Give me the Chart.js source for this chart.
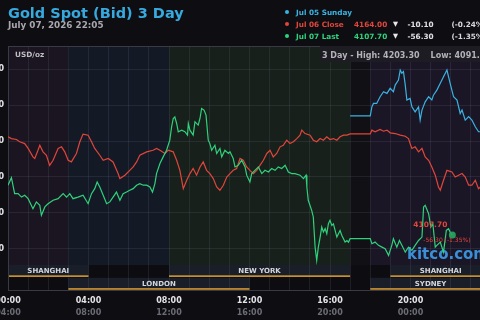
<!DOCTYPE html>
<html>
<head>
<meta charset="utf-8">
<script src="https://cdn.jsdelivr.net/npm/chart.js@4.4.1/dist/chart.umd.min.js"></script>
<style>
  html, body { margin: 0; padding: 0; background: #0e0e12; width: 480px; height: 320px; overflow: hidden; }
  #wrap { position: relative; width: 480px; height: 320px; overflow: hidden; font-family: "DejaVu Sans", sans-serif; }
  #chartBox { position: absolute; left: -42px; top: 0; width: 560px; height: 320px; }
  .t { position: absolute; white-space: nowrap; font-weight: bold; line-height: 1; }
  .dot { position: absolute; width: 4px; height: 4px; border-radius: 50%; }
  #info { position: absolute; left: 320px; top: 46px; width: 170px; height: 16px; background: #1c1c22; }
</style>
</head>
<body>
<div id="wrap">
  <div id="chartBox"><canvas id="goldChart" width="560" height="320"></canvas></div>
  <div class="t" style="left:8px;top:5.5px;font-size:14.5px;color:#36a9df">Gold Spot (Bid) 3 Day</div>
  <div class="t" style="left:8px;top:21px;font-size:8.8px;color:#a8a8ae">July 07, 2026 22:05</div>
  <div class="t" style="left:15px;top:51px;font-size:7.3px;color:#bdbdc3">USD/oz</div>
  <div id="info"></div>
  <div class="t" style="left:322px;top:51.5px;font-size:8px;color:#b2b2b8">3 Day - High: 4203.30<span style="margin-left:11px">Low: 4091.90</span></div>
  <div id="legend"></div>
</div>
<script>
// hours are decimal hours of the day (row 1 clock), prices in USD/oz
const sundayHours = [17.0, 18.0, 18.08, 18.16, 18.32, 18.49, 18.66, 18.83, 18.99, 19.15, 19.24, 19.40, 19.49, 19.57, 19.65, 19.74, 19.82, 19.98, 20.07, 20.23, 20.40, 20.48, 20.57, 20.73, 20.90, 21.06, 21.14, 21.31, 21.48, 21.64, 21.81, 21.97, 22.14, 22.31, 22.47, 22.56, 22.72, 22.89, 23.05, 23.22, 23.38, 23.47, 24.0];
const sundayPrices = [4174.1, 4174.1, 4179.1, 4181.0, 4181.0, 4184.7, 4187.5, 4186.6, 4189.4, 4187.5, 4191.2, 4194.0, 4199.6, 4197.8, 4198.7, 4191.2, 4182.9, 4183.8, 4179.1, 4176.3, 4179.1, 4171.7, 4177.3, 4181.9, 4184.7, 4182.9, 4185.6, 4188.4, 4192.2, 4195.9, 4199.6, 4192.2, 4184.7, 4182.9, 4175.4, 4177.3, 4171.7, 4173.6, 4171.7, 4168.0, 4165.2, 4165.2, 4162.0];

const closeHours = [0.00, 0.17, 0.42, 0.58, 0.83, 1.00, 1.24, 1.33, 1.49, 1.58, 1.74, 1.91, 2.07, 2.24, 2.49, 2.66, 2.82, 2.99, 3.15, 3.40, 3.57, 3.73, 3.98, 4.15, 4.31, 4.56, 4.73, 4.98, 5.22, 5.47, 5.56, 5.81, 6.05, 6.22, 6.39, 6.55, 6.89, 7.21, 7.38, 7.55, 7.80, 7.96, 8.21, 8.38, 8.54, 8.71, 8.88, 9.04, 9.20, 9.37, 9.54, 9.70, 9.87, 10.03, 10.20, 10.37, 10.53, 10.70, 10.87, 11.03, 11.19, 11.36, 11.53, 11.69, 11.86, 12.02, 12.19, 12.36, 12.52, 12.69, 12.86, 13.02, 13.18, 13.35, 13.52, 13.68, 13.85, 14.01, 14.18, 14.35, 14.51, 14.60, 14.76, 15.01, 15.17, 15.34, 15.51, 15.67, 15.84, 16.00, 16.17, 16.34, 16.50, 16.67, 16.84, 17.0, 18.0, 18.08, 18.24, 18.49, 18.66, 18.83, 18.99, 19.24, 19.49, 19.74, 19.90, 19.98, 20.07, 20.23, 20.40, 20.57, 20.73, 20.90, 21.06, 21.23, 21.39, 21.48, 21.64, 21.81, 22.06, 22.22, 22.39, 22.56, 22.72, 22.89, 23.05, 23.22, 23.38, 23.47, 24.0];
const closePrices = [4162.4, 4161.4, 4160.9, 4159.6, 4158.6, 4155.9, 4151.2, 4150.3, 4154.9, 4157.7, 4154.0, 4152.1, 4146.5, 4149.3, 4155.9, 4156.8, 4154.0, 4149.3, 4148.4, 4153.1, 4159.6, 4163.9, 4163.3, 4159.6, 4155.9, 4152.1, 4149.3, 4150.3, 4148.4, 4141.9, 4139.1, 4141.0, 4143.7, 4145.6, 4148.4, 4152.1, 4154.0, 4154.9, 4155.9, 4154.9, 4153.1, 4154.9, 4154.0, 4149.3, 4143.7, 4133.5, 4138.2, 4141.9, 4144.7, 4141.0, 4145.6, 4148.4, 4143.7, 4141.9, 4139.1, 4134.4, 4132.6, 4135.4, 4140.0, 4141.9, 4143.7, 4144.7, 4150.3, 4149.3, 4145.6, 4143.7, 4141.9, 4143.7, 4146.5, 4149.3, 4153.1, 4154.9, 4151.2, 4153.1, 4156.8, 4157.7, 4160.5, 4158.6, 4159.6, 4161.4, 4163.3, 4166.1, 4164.2, 4163.3, 4160.5, 4159.6, 4161.4, 4160.5, 4162.4, 4160.9, 4161.4, 4160.5, 4162.4, 4163.3, 4163.3, 4164.0, 4164.0, 4166.1, 4165.2, 4166.5, 4165.5, 4166.1, 4164.6, 4164.2, 4163.3, 4162.7, 4161.4, 4158.6, 4155.9, 4156.8, 4154.0, 4155.9, 4151.2, 4149.3, 4145.6, 4141.0, 4134.4, 4132.6, 4138.2, 4143.7, 4142.8, 4140.0, 4141.0, 4141.9, 4140.0, 4135.4, 4135.4, 4138.2, 4133.5, 4134.4, 4136.0];

const lastHours = [0.00, 0.17, 0.33, 0.50, 0.67, 0.83, 1.00, 1.24, 1.41, 1.58, 1.66, 1.83, 1.99, 2.24, 2.49, 2.74, 2.91, 3.07, 3.23, 3.48, 3.73, 3.98, 4.15, 4.31, 4.43, 4.56, 4.73, 4.90, 5.06, 5.22, 5.39, 5.56, 5.72, 5.89, 6.05, 6.22, 6.39, 6.55, 6.72, 6.89, 7.05, 7.18, 7.30, 7.38, 7.55, 7.71, 7.88, 8.04, 8.13, 8.21, 8.29, 8.38, 8.46, 8.63, 8.79, 8.92, 8.96, 9.04, 9.20, 9.29, 9.45, 9.54, 9.62, 9.74, 9.84, 9.95, 10.03, 10.12, 10.28, 10.37, 10.53, 10.62, 10.78, 10.95, 11.03, 11.19, 11.28, 11.44, 11.61, 11.78, 11.86, 12.02, 12.11, 12.27, 12.44, 12.61, 12.77, 12.94, 13.10, 13.27, 13.43, 13.60, 13.77, 13.93, 14.10, 14.26, 14.51, 14.68, 14.81, 14.85, 14.92, 15.09, 15.17, 15.26, 15.34, 15.42, 15.51, 15.59, 15.67, 15.76, 15.84, 15.92, 16.00, 16.09, 16.17, 16.34, 16.50, 16.59, 16.75, 16.84, 16.92, 17.0, 18.0, 18.08, 18.24, 18.41, 18.58, 18.74, 18.91, 19.07, 19.15, 19.32, 19.45, 19.57, 19.74, 19.90, 20.07, 20.23, 20.40, 20.57, 20.65, 20.73, 20.90, 21.01, 21.11, 21.23, 21.31, 21.48, 21.64, 21.78, 21.89, 21.98, 22.08];
const lastPrices = [4135.4, 4139.6, 4130.7, 4130.7, 4128.8, 4129.8, 4127.9, 4122.3, 4126.1, 4124.2, 4118.6, 4123.3, 4125.1, 4127.0, 4127.9, 4130.7, 4128.8, 4130.7, 4127.9, 4128.8, 4129.8, 4125.1, 4130.7, 4133.5, 4137.2, 4134.4, 4129.8, 4125.1, 4126.1, 4128.8, 4131.6, 4127.0, 4130.7, 4131.6, 4132.6, 4133.5, 4135.4, 4136.3, 4135.4, 4135.4, 4134.4, 4131.6, 4136.3, 4141.9, 4147.5, 4151.2, 4154.9, 4160.5, 4167.9, 4172.6, 4173.5, 4169.8, 4165.2, 4166.1, 4165.2, 4163.3, 4169.8, 4166.1, 4163.3, 4170.8, 4168.9, 4172.6, 4178.2, 4177.3, 4174.5, 4160.5, 4158.6, 4154.9, 4157.7, 4153.1, 4155.9, 4151.2, 4154.9, 4153.1, 4154.0, 4150.3, 4145.6, 4146.5, 4149.3, 4145.6, 4141.0, 4137.2, 4141.9, 4143.7, 4145.6, 4141.9, 4143.7, 4142.8, 4144.7, 4143.7, 4145.6, 4144.7, 4146.5, 4142.8, 4141.9, 4141.9, 4141.0, 4139.1, 4141.0, 4134.4, 4127.0, 4121.4, 4117.7, 4100.9, 4093.5, 4100.9, 4106.5, 4112.1, 4109.3, 4111.2, 4108.4, 4113.9, 4115.8, 4113.0, 4113.9, 4106.5, 4110.2, 4107.4, 4103.7, 4104.6, 4103.7, 4105.6, 4105.6, 4102.8, 4103.7, 4101.9, 4100.9, 4100.0, 4096.3, 4101.9, 4105.6, 4100.9, 4104.6, 4101.9, 4098.1, 4100.9, 4099.1, 4101.9, 4104.6, 4106.5, 4123.3, 4124.2, 4119.5, 4112.1, 4113.9, 4100.9, 4101.9, 4103.7, 4098.1, 4110.2, 4111.2, 4109.0, 4107.7];

const seriesLabels = ['Jul 05 Sunday', 'Jul 06 Close', 'Jul 07 Last'];
const seriesQuotes = ['', '4164.00', '4107.70'];
const seriesChanges = ['', '-10.10', '-56.30'];
const seriesPercents = ['', '(-0.24%)', '(-1.35%)'];

const yTicks = [4100, 4120, 4140, 4160, 4180, 4200];
const hourTicks = [0, 4, 8, 12, 16, 20];
const gmtOffset = 4;

const zoneStart = [0, 3, 8, 17, 18];
const zoneEnd = [3, 8, 17, 18, 24];
const sessionNames = ['SHANGHAI', 'LONDON', 'NEW YORK', 'SYDNEY', 'SHANGHAI'];
const sessionStart = [0, 3, 8, 18, 19];
const sessionEnd = [4, 12, 17, 24, 24];
const sessionRow = [0, 1, 0, 1, 0];

// styling
const BLUE = '#3ab2e2', RED = '#e0463b', GREEN = '#2fd27c';
const SERIES_COLORS = [BLUE, RED, GREEN];
const ZONE_COLORS = ['#1b1521', '#131a26', '#18201b', '#111115', '#1b1626'];
const FONT = '"DejaVu Sans", sans-serif';
const STRIP_H = 25;

const hh = h => String(h).padStart(2, '0') + ':00';
const pts = (xs, ys) => xs.map((x, i) => ({ x, y: ys[i] }));

// legend (header, right side)
const legend = document.getElementById('legend');
seriesLabels.forEach((name, i) => {
  const top = 9.1 + i * 12;
  const c = SERIES_COLORS[i];
  let html = `<div class="dot" style="left:285.3px;top:${top + 1.2}px;background:${c}"></div>`;
  html += `<div class="t" style="left:296px;top:${top}px;font-size:7.3px;color:${c}">${name}</div>`;
  if (seriesQuotes[i]) {
    html += `<div class="t" style="left:354px;top:${top}px;font-size:7.3px;color:${c}">${seriesQuotes[i]}</div>`;
    html += `<div class="t" style="left:393px;top:${top}px;font-size:6.5px;color:#e8e8ea">▼</div>`;
    html += `<div class="t" style="left:407.5px;top:${top}px;font-size:7.3px;color:#e0e0e4">${seriesChanges[i]}</div>`;
    html += `<div class="t" style="left:451.5px;top:${top}px;font-size:7.3px;color:#d8d8dc">${seriesPercents[i]}</div>`;
  }
  legend.insertAdjacentHTML('beforeend', html);
});

const kitcoPlugin = {
  id: 'kitco',
  beforeDraw(chart) {
    const { ctx, chartArea: a, scales: { x } } = chart;
    ctx.save();
    const zoneBottom = a.bottom - STRIP_H;
    zoneStart.forEach((s, i) => {
      const x0 = x.getPixelForValue(s), x1 = x.getPixelForValue(zoneEnd[i]);
      ctx.fillStyle = ZONE_COLORS[i];
      ctx.fillRect(x0, a.top, x1 - x0, zoneBottom - a.top);
    });
    ctx.fillStyle = '#0d0d11';
    ctx.fillRect(a.left, zoneBottom, a.right - a.left, STRIP_H);
    ctx.font = 'bold 7px ' + FONT;
    ctx.textAlign = 'center';
    ctx.textBaseline = 'middle';
    sessionNames.forEach((name, i) => {
      const x0 = x.getPixelForValue(sessionStart[i]);
      const x1 = x.getPixelForValue(Math.min(sessionEnd[i], x.max));
      const top = zoneBottom + sessionRow[i] * 12.8;
      ctx.fillStyle = '#1a1e28';
      ctx.fillRect(x0, top, x1 - x0, 11.5);
      ctx.fillStyle = '#c99030';
      ctx.fillRect(x0, top + 10.3, x1 - x0, 1.7);
      ctx.fillStyle = '#d4d6dc';
      ctx.fillText(name, (x0 + x1) / 2, top + 6.3);
    });
    ctx.restore();
  },
  beforeDatasetsDraw(chart) {
    const { ctx, chartArea: a } = chart;
    ctx.save();
    ctx.font = 'bold 15px ' + FONT;
    ctx.fillStyle = '#3a8fd6';
    ctx.textAlign = 'right';
    ctx.textBaseline = 'alphabetic';
    ctx.fillText('kitco.com', a.right - 2, a.bottom - 31);
    ctx.restore();
  },
  afterDatasetsDraw(chart) {
    const { ctx, chartArea: a } = chart;
    const meta = chart.getDatasetMeta(0);
    const p = meta.data[meta.data.length - 1];
    ctx.save();
    ctx.fillStyle = RED;
    ctx.textBaseline = 'alphabetic';
    ctx.font = 'bold 7.5px ' + FONT;
    ctx.textAlign = 'right';
    ctx.fillText(seriesQuotes[2], p.x - 5, p.y - 8);
    ctx.font = '6px ' + FONT;
    ctx.textAlign = 'left';
    ctx.fillText(seriesChanges[2] + ' ' + seriesPercents[2], p.x - 29, p.y + 6.7);
    ctx.strokeStyle = '#3a3a44';
    ctx.lineWidth = 1;
    ctx.beginPath();
    ctx.moveTo(a.left, a.top + 0.5);
    ctx.lineTo(a.right + 40, a.top + 0.5);
    ctx.stroke();
    ctx.restore();
  }
};

const tickFont = { family: FONT, size: 8, weight: 'bold' };
const gridColor = 'rgba(150,150,175,0.13)';

new Chart(document.getElementById('goldChart'), {
  type: 'line',
  data: {
    datasets: [
      { label: seriesLabels[2], data: pts(lastHours, lastPrices), borderColor: GREEN, borderWidth: 1.2,
        pointRadius: c => (c.dataIndex === lastHours.length - 1 ? 3.5 : 0),
        pointBackgroundColor: 'rgba(38,170,95,0.9)', pointBorderWidth: 0 },
      { label: seriesLabels[1], data: pts(closeHours, closePrices), borderColor: RED, borderWidth: 1.2, pointRadius: 0 },
      { label: seriesLabels[0], data: pts(sundayHours, sundayPrices), borderColor: BLUE, borderWidth: 1.2, pointRadius: 0 }
    ]
  },
  options: {
    responsive: false,
    animation: false,
    layout: { padding: { top: 46, right: 27, left: 0, bottom: 0 } },
    plugins: { legend: { display: false }, tooltip: { enabled: false } },
    elements: { line: { tension: 0 } },
    scales: {
      x: {
        type: 'linear', position: 'bottom', weight: 0, min: 0, max: 24,
        ticks: { stepSize: 1, autoSkip: false, maxRotation: 0, padding: 6, color: '#e4e4e8', font: tickFont,
          callback: v => (hourTicks.includes(v) ? hh(v) : '') },
        grid: { color: gridColor, drawTicks: false },
        border: { color: '#3a3a44' },
        afterFit: s => { s.height = 16; }
      },
      x2: {
        type: 'linear', position: 'bottom', weight: 1, min: 0, max: 24,
        ticks: { stepSize: 1, autoSkip: false, maxRotation: 0, padding: 2, color: '#6c6c76', font: tickFont,
          callback: v => (hourTicks.includes(v) ? hh((v + gmtOffset) % 24) : '') },
        grid: { display: false, drawTicks: false },
        border: { display: false },
        afterFit: s => { s.height = 14; }
      },
      y: {
        min: 4077, max: 4213,
        afterBuildTicks: s => { s.ticks = yTicks.map(v => ({ value: v })); },
        ticks: { padding: 4, color: '#e4e4e8', font: tickFont },
        grid: { color: gridColor, drawTicks: false },
        border: { color: '#3a3a44' },
        afterFit: s => { s.width = 50; }
      }
    }
  },
  plugins: [kitcoPlugin]
});
</script>
</body>
</html>
